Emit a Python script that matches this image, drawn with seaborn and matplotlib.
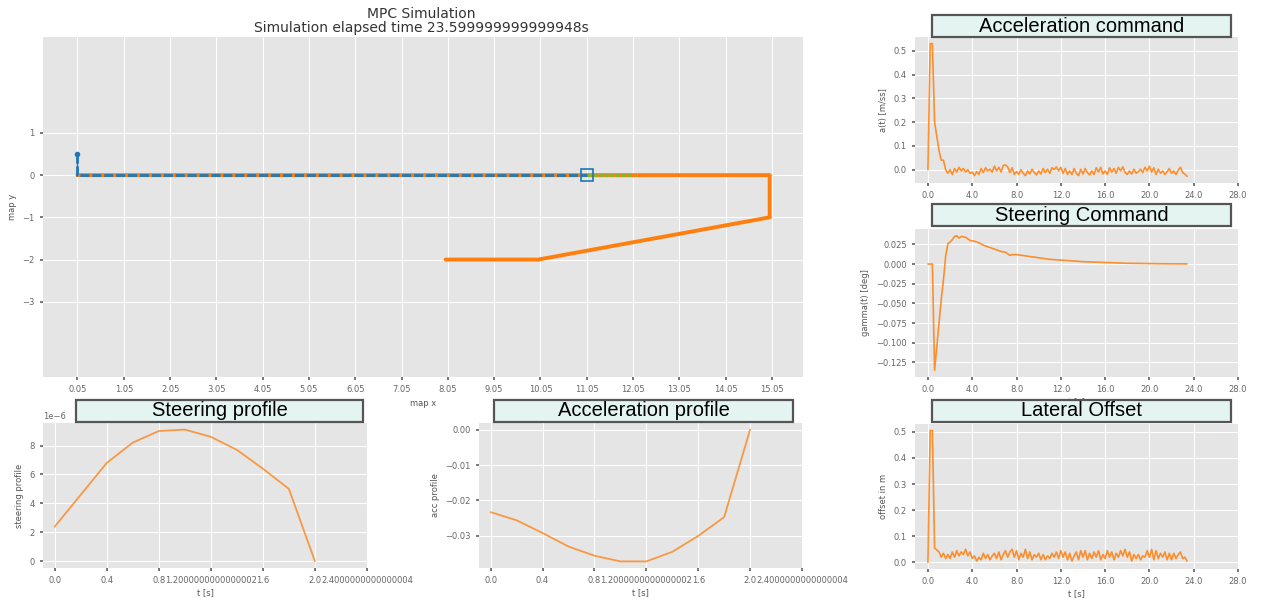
import numpy as np
import pandas as pd
import matplotlib.pyplot as plt
from matplotlib.patches import Rectangle
import seaborn as sns

# ---- data ----
# map view
ref_x = [0.05, 15.0, 15.0, 10.0, 8.0]
ref_y = [0.0, 0.0, -1.0, -2.0, -2.0]
traj_x = [0.05, 0.05, 11.05]
traj_y = [0.5, 0.0, 0.0]
horizon_x = [11.05, 12.0]
horizon_y = [0.0, 0.0]
car_x, car_y = 11.05, 0.0
map_xticks = [0.05, 1.05, 2.05, 3.05, 4.05, 5.05, 6.05, 7.05,
              8.05, 9.05, 10.05, 11.05, 12.05, 13.05, 14.05, 15.05]
map_yticks = [-3, -2, -1, 0, 1]

# command histories, sampled every 0.2 s
t_cmd = np.round(np.arange(0, 23.5, 0.2), 1)
acc_cmd = [0.0, 0.53, 0.53, 0.20, 0.14, 0.08, 0.04, 0.04, 0.0, -0.015,
           0.0, -0.02, 0.005, -0.01, 0.01, -0.005, 0.005, -0.01, 0.0, -0.015,
           -0.01, -0.025, -0.008, -0.02, 0.005, -0.012, 0.008, -0.005, 0.002, -0.01,
           0.015, -0.005, 0.01, -0.01, 0.018, 0.02, 0.012, -0.012, 0.008, -0.02,
           -0.008, -0.02, 0.0, -0.015, -0.025, -0.005, -0.018, 0.002, -0.012, -0.022,
           -0.005, -0.018, 0.005, -0.012, 0.002, -0.015, 0.008, 0.0, 0.012, -0.005,
           0.01, -0.015, 0.005, -0.02, -0.005, -0.02, 0.005, -0.015, -0.025, 0.002,
           -0.018, 0.005, -0.012, -0.022, -0.005, -0.02, 0.008, -0.01, 0.01, -0.018,
           -0.005, -0.02, 0.008, -0.01, 0.005, -0.015, 0.01, -0.005, 0.012, -0.012,
           -0.02, -0.005, -0.018, 0.002, -0.015, -0.008, 0.002, -0.012, 0.01, -0.005,
           0.015, -0.01, 0.008, -0.02, 0.002, -0.015, -0.005, -0.02, -0.008, 0.005,
           -0.015, -0.005, -0.02, -0.002, 0.01, -0.012, -0.018, -0.028]
lat_offset = [0.0, 0.505, 0.505, 0.055, 0.048, 0.04, 0.02, 0.035, 0.015, 0.03,
              0.015, 0.04, 0.02, 0.045, 0.025, 0.04, 0.03, 0.05, 0.025, 0.04,
              0.015, 0.025, 0.005, 0.02, 0.01, 0.035, 0.015, 0.03, 0.01, 0.025,
              0.035, 0.015, 0.04, 0.01, 0.03, 0.045, 0.02, 0.04, 0.05, 0.02,
              0.045, 0.01, 0.035, 0.02, 0.05, 0.015, 0.04, 0.01, 0.03, 0.02,
              0.035, 0.01, 0.03, 0.01, 0.025, 0.015, 0.035, 0.02, 0.04, 0.015,
              0.045, 0.02, 0.04, 0.01, 0.035, 0.005, 0.025, 0.04, 0.01, 0.045,
              0.02, 0.045, 0.01, 0.035, 0.015, 0.04, 0.02, 0.045, 0.01, 0.03,
              0.015, 0.045, 0.02, 0.04, 0.01, 0.035, 0.02, 0.045, 0.025, 0.05,
              0.02, 0.04, 0.005, 0.03, 0.015, 0.03, 0.01, 0.025, 0.02, 0.045,
              0.02, 0.05, 0.01, 0.045, 0.015, 0.035, 0.02, 0.04, 0.01, 0.035,
              0.01, 0.035, 0.015, 0.03, 0.04, 0.015, 0.02, 0.005]

t_steer = [0, 0.2, 0.4, 0.6, 0.8, 1.0, 1.2, 1.4, 1.6, 1.8, 2.0, 2.2, 2.4, 2.6,
           2.8, 3.0, 3.4, 3.8, 4.2, 4.6, 5.0, 5.4, 5.8, 6.2, 6.6, 7.0, 7.4, 7.6,
           8.0, 8.5, 9.0, 10.0, 11.0, 12.0, 13.0, 14.0, 15.0, 16.0, 17.0, 18.0,
           19.0, 20.0, 21.0, 22.0, 23.4]
steer_cmd = [0.0, 0.0, 0.0, -0.135, -0.105, -0.075, -0.045, -0.02, 0.01, 0.026,
             0.028, 0.031, 0.035, 0.036, 0.033, 0.035, 0.034, 0.03, 0.029, 0.027,
             0.024, 0.022, 0.02, 0.018, 0.016, 0.015, 0.011, 0.012, 0.012, 0.011,
             0.01, 0.008, 0.006, 0.005, 0.004, 0.003, 0.0025, 0.002, 0.0015, 0.001,
             0.0008, 0.0006, 0.0004, 0.0003, 0.0002]
cmd_xticks = [0, 4, 8, 12, 16, 20, 24, 28]
cmd_xlabels = ['0.0', '4.0', '8.0', '12.0', '16.0', '20.0', '24.0', '28.0']

# horizon profiles
t_prof = [0.0, 0.2, 0.4, 0.6, 0.8, 1.0, 1.2, 1.4, 1.6, 1.8, 2.0]
steer_prof = [2.4e-6, 4.6e-6, 6.8e-6, 8.2e-6, 9.0e-6, 9.1e-6, 8.6e-6,
              7.7e-6, 6.4e-6, 5.0e-6, 0.0]
acc_prof = [-0.0233, -0.0256, -0.0292, -0.0330, -0.0356, -0.0372, -0.0372,
            -0.0345, -0.0300, -0.0247, 0.0]
prof_xticks = [0.0, 0.4, 0.8, 1.2, 1.6, 2.0, 2.4]
prof_xlabels = ['0.0', '0.4', '0.8', '1.2000000000000002', '1.6', '2.0',
                '2.4000000000000004']

# ---- style ----
sns.set_theme(style='darkgrid', rc={
    'axes.facecolor': '#E5E5E5',
    'grid.color': 'white',
    'grid.linewidth': 0.8,
    'axes.edgecolor': 'white',
    'axes.linewidth': 0,
    'xtick.color': '#666666',
    'ytick.color': '#666666',
    'xtick.labelcolor': '#666666',
    'ytick.labelcolor': '#666666',
    'xtick.bottom': True,
    'ytick.left': True,
    'xtick.major.size': 2.5,
    'ytick.major.size': 2.5,
    'xtick.labelsize': 6,
    'ytick.labelsize': 6,
    'axes.labelsize': 6,
    'axes.labelcolor': '#555555',
})
plt.rcParams['font.family'] = ['DejaVu Sans']

ORANGE = '#ff7f0e'
W, H = 1266, 600
fig = plt.figure(figsize=(W / 100, H / 100), dpi=100)


def px_axes(l, t, r, b):
    return fig.add_axes([l / W, 1 - b / H, (r - l) / W, (b - t) / H])


def title_box(l, t, r, b, text):
    fig.add_artist(Rectangle((l / W, 1 - b / H), (r - l) / W, (b - t) / H,
                             transform=fig.transFigure, facecolor='#e4f4f1',
                             edgecolor='#555555', linewidth=1.6, zorder=5))
    fig.text((l + r) / 2 / W, 1 - (t + b) / 2 / H, text, ha='center',
             va='center', fontsize=14.5, family='Liberation Sans',
             color='black', zorder=6)


# ---- main map ----
ax = px_axes(43, 37, 803, 377)
sns.lineplot(x=ref_x, y=ref_y, sort=False, estimator=None, ax=ax,
             color=ORANGE, linewidth=2.8, marker='.', markersize=3,
             markeredgewidth=0)
sns.lineplot(x=horizon_x, y=horizon_y, sort=False, estimator=None, ax=ax,
             color='#8fb030', linewidth=2.4, linestyle=(0, (1.2, 0.5)))
sns.lineplot(x=traj_x, y=traj_y, sort=False, estimator=None, ax=ax,
             color='#1f77b4', linewidth=2.2, linestyle=(0, (3.0, 0.9)),
             alpha=0.9)
ax.plot(traj_x[0], traj_y[0], 'o', color='#1f77b4', markersize=3)
ax.plot([traj_x[0]] * 2, traj_y[:2], color='#1f77b4', linewidth=1.0)
ax.plot(car_x, car_y, 's', markersize=8, markerfacecolor='none',
        markeredgecolor='#1f77b4', markeredgewidth=1.2)
ax.set_xlim(-0.695, 15.72)
ax.set_ylim(-4.78, 3.27)
ax.set_xticks(map_xticks)
ax.set_xticklabels([str(v) for v in map_xticks])
ax.set_yticks(map_yticks)
ax.set_xlabel('map x', labelpad=3)
ax.set_ylabel('map y', labelpad=4)
fig.text(421 / W, 1 - 21 / H,
         'MPC Simulation\nSimulation elapsed time 23.599999999999948s',
         ha='center', va='center', fontsize=10, color='#333333',
         linespacing=1.0)

# ---- right column: command histories ----
cmd = pd.DataFrame({'t': t_cmd, 'acc': acc_cmd, 'off': lat_offset})

ax1 = px_axes(915, 37, 1238, 183)
sns.lineplot(data=cmd, x='t', y='acc', ax=ax1, color=ORANGE, linewidth=1.2,
             alpha=0.85)
ax1.set_ylabel('a(t) [m/ss]')
ax1.set_xlabel('t [s]')

ax2 = px_axes(915, 229, 1238, 377)
sns.lineplot(x=t_steer, y=steer_cmd, ax=ax2, color=ORANGE, linewidth=1.2,
             alpha=0.85)
ax2.set_ylabel('gamma(t) [deg]')
ax2.set_xlabel('t [s]')

ax3 = px_axes(915, 424, 1238, 569)
sns.lineplot(data=cmd, x='t', y='off', ax=ax3, color=ORANGE, linewidth=1.2,
             alpha=0.85)
ax3.set_ylabel('offset in m')
ax3.set_xlabel('t [s]')

for a in (ax1, ax2, ax3):
    a.set_xticks(cmd_xticks)
    a.set_xticklabels(cmd_xlabels)
    a.set_xlim(-1.17, 28)
    a.xaxis.labelpad = 2

ax1.set_yticks([0.0, 0.1, 0.2, 0.3, 0.4, 0.5])
ax2.set_yticks([-0.125, -0.1, -0.075, -0.05, -0.025, 0.0, 0.025])
ax2.set_yticklabels(['\u22120.125', '\u22120.100', '\u22120.075', '\u22120.050',
                     '\u22120.025', '0.000', '0.025'])
ax3.set_yticks([0.0, 0.1, 0.2, 0.3, 0.4, 0.5])

# ---- bottom: horizon profiles ----
ax4 = px_axes(43, 423, 367, 568)
sns.lineplot(x=t_prof, y=steer_prof, ax=ax4, color=ORANGE, linewidth=1.3,
             alpha=0.75)
ax4.set_ylabel('steering profile')
ax4.set_yticks([0, 2e-6, 4e-6, 6e-6, 8e-6])
ax4.yaxis.get_offset_text().set_fontsize(6)
ax4.yaxis.get_offset_text().set_color('#666666')

ax5 = px_axes(479, 423, 802, 568)
sns.lineplot(x=t_prof, y=acc_prof, ax=ax5, color=ORANGE, linewidth=1.3,
             alpha=0.75)
ax5.set_ylabel('acc profile')
ax5.set_yticks([-0.03, -0.02, -0.01, 0.0])
ax5.set_yticklabels(['\u22120.03', '\u22120.02', '\u22120.01', '0.00'])

for a in (ax4, ax5):
    a.set_xticks(prof_xticks)
    a.set_xticklabels(prof_xlabels)
    a.set_xlim(-0.09, 2.4)
    a.set_xlabel('t [s]', labelpad=2)

# ---- boxed titles ----
title_box(932, 15, 1231, 37, 'Acceleration command')
title_box(932, 204, 1231, 226, 'Steering Command')
title_box(932, 400, 1231, 422, 'Lateral Offset')
title_box(76, 400, 363, 422, 'Steering profile')
title_box(494, 400, 793, 422, 'Acceleration profile')

fig.savefig('out.png', dpi=100, facecolor='white')
